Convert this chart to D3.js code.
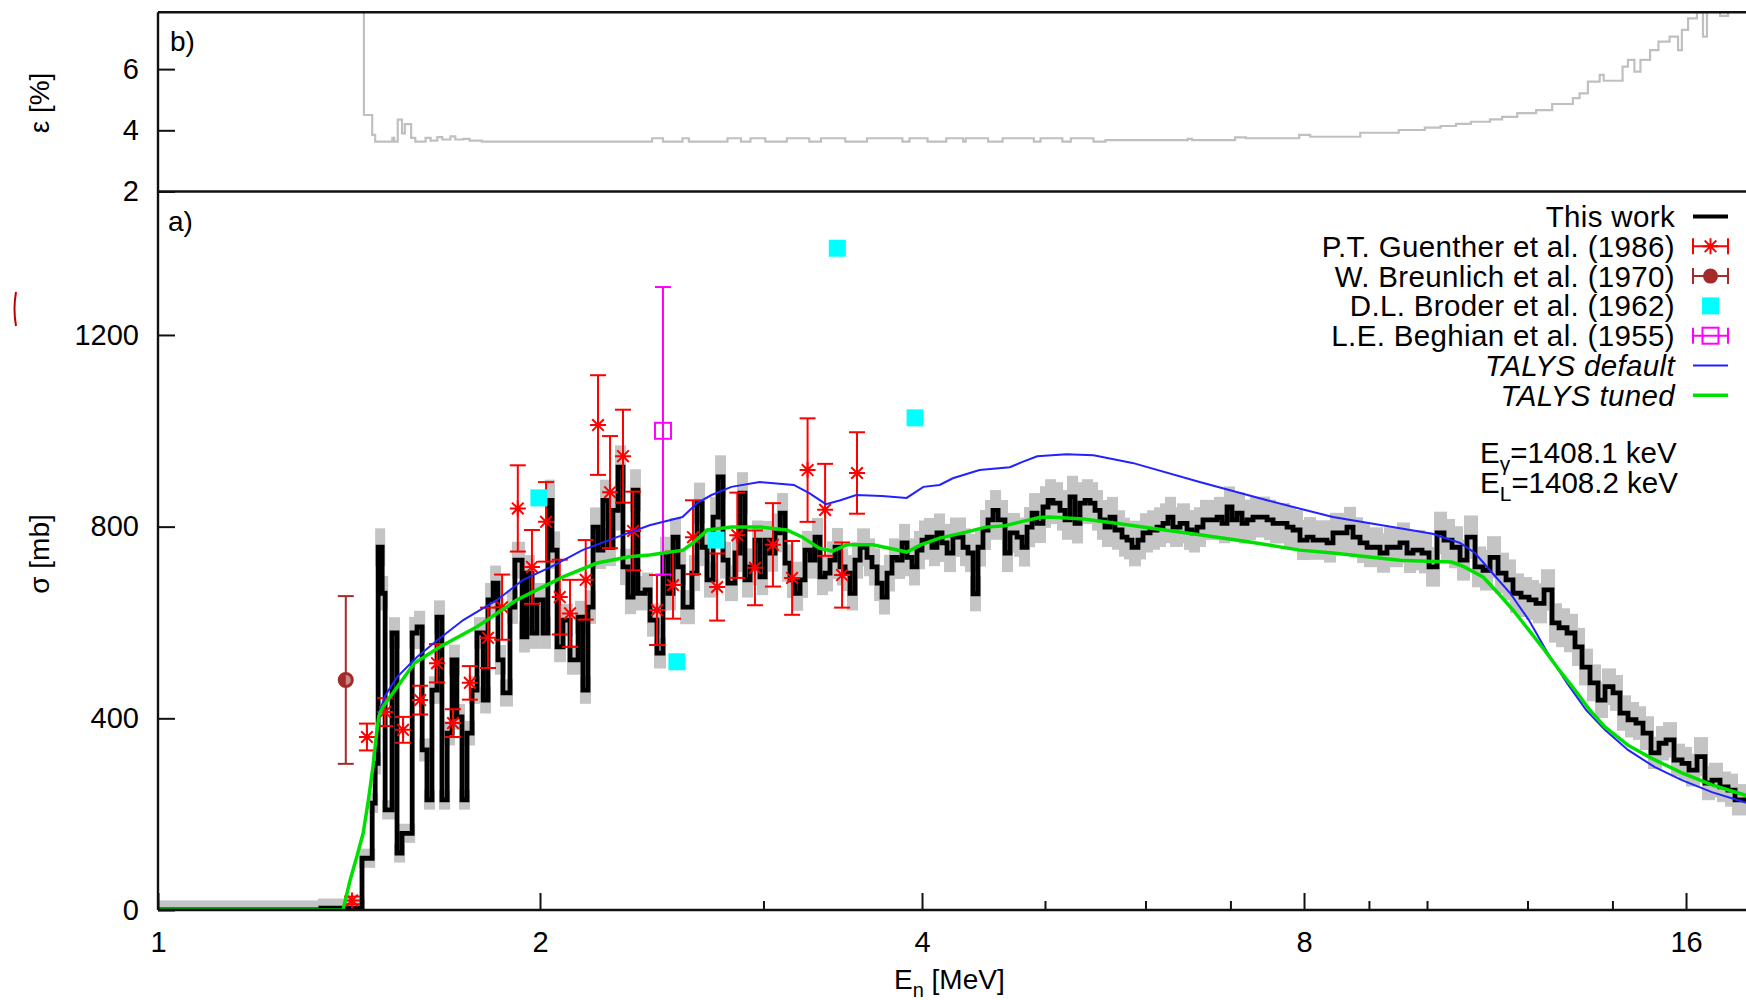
<!DOCTYPE html>
<html>
<head>
<meta charset="utf-8">
<script src="https://cdn.jsdelivr.net/npm/d3@7"></script>
<style>
  body { margin: 0; background: #fff; }
  text { font-family: "Liberation Sans", Arial, sans-serif; fill: #000; }
</style>
</head>
<body>
<svg id="chart" width="1746" height="1000"></svg>
<script>
// ---- data ----
// this work: step histogram, [bin start E (MeV), sigma (mb)]
const thisWork = [
  [1.0, 0], [1.344, 4], [1.448, 108], [1.475, 223], [1.483, 306], [1.491, 757], [1.502, 661],
  [1.510, 209], [1.529, 578], [1.543, 119], [1.557, 160], [1.586, 578], [1.600, 591], [1.615, 334],
  [1.629, 230], [1.644, 459], [1.659, 611], [1.674, 230], [1.690, 369], [1.705, 522], [1.720, 403],
  [1.736, 230], [1.752, 369], [1.768, 459], [1.784, 578], [1.804, 438], [1.820, 647], [1.837, 682],
  [1.853, 522], [1.870, 453], [1.894, 632], [1.911, 730], [1.936, 570], [1.953, 703], [1.971, 578],
  [1.989, 647], [2.011, 578], [2.029, 855], [2.044, 751], [2.063, 549], [2.085, 605], [2.112, 522],
  [2.143, 611], [2.162, 459], [2.182, 632], [2.202, 799], [2.222, 751], [2.242, 855], [2.263, 757],
  [2.283, 834], [2.304, 924], [2.325, 716], [2.346, 653], [2.368, 876], [2.389, 661], [2.420, 668],
  [2.442, 605], [2.473, 536], [2.500, 740], [2.523, 661], [2.546, 778], [2.569, 716], [2.593, 632],
  [2.635, 703], [2.659, 849], [2.684, 757], [2.708, 689], [2.738, 820], [2.763, 904], [2.788, 730],
  [2.813, 682], [2.849, 745], [2.875, 870], [2.901, 689], [2.928, 716], [2.954, 772], [2.981, 695],
  [3.009, 772], [3.036, 745], [3.064, 787], [3.092, 828], [3.120, 724], [3.148, 689], [3.177, 661],
  [3.206, 689], [3.235, 751], [3.265, 730], [3.294, 778], [3.324, 695], [3.355, 703], [3.385, 730],
  [3.416, 757], [3.447, 716], [3.479, 703], [3.510, 661], [3.542, 730], [3.575, 757], [3.620, 736],
  [3.653, 716], [3.687, 682], [3.720, 653], [3.754, 703], [3.788, 736], [3.823, 730], [3.858, 766],
  [3.893, 736], [3.928, 716], [3.964, 751], [4.000, 772], [4.037, 778], [4.073, 757], [4.110, 787],
  [4.148, 766], [4.186, 745], [4.231, 778], [4.309, 757], [4.348, 745], [4.388, 660], [4.428, 757],
  [4.468, 793], [4.509, 814], [4.550, 834], [4.592, 814], [4.650, 745], [4.693, 787], [4.753, 778],
  [4.796, 757], [4.840, 799], [4.884, 828], [4.928, 807], [4.982, 841], [5.028, 855], [5.073, 849],
  [5.138, 834], [5.185, 814], [5.232, 862], [5.280, 807], [5.328, 849], [5.377, 855], [5.426, 849],
  [5.475, 834], [5.525, 814], [5.575, 799], [5.626, 820], [5.677, 793], [5.750, 778], [5.802, 772],
  [5.855, 757], [5.919, 772], [5.973, 787], [6.050, 793], [6.127, 799], [6.194, 807], [6.250, 820],
  [6.307, 799], [6.388, 807], [6.470, 793], [6.529, 787], [6.588, 799], [6.660, 814], [6.832, 820],
  [6.894, 807], [6.957, 841], [7.020, 814], [7.084, 828], [7.149, 807], [7.214, 814], [7.293, 820],
  [7.481, 814], [7.563, 807], [7.757, 799], [7.842, 793], [7.942, 772], [8.044, 778], [8.132, 772],
  [8.341, 766], [8.432, 787], [8.649, 799], [8.744, 778], [8.856, 766], [8.969, 757], [9.183, 745],
  [9.300, 757], [9.522, 766], [9.644, 745], [9.750, 751], [9.910, 745], [10.037, 716], [10.184, 787],
  [10.314, 772], [10.465, 757], [10.618, 730], [10.753, 778], [10.911, 716], [11.070, 709],
  [11.212, 736], [11.376, 703], [11.542, 689], [11.689, 661], [11.861, 653], [12.034, 647],
  [12.188, 640], [12.366, 668], [12.547, 599], [12.707, 589], [12.893, 578], [13.081, 549],
  [13.249, 507], [13.442, 474], [13.639, 438], [13.813, 466], [14.015, 453], [14.194, 411],
  [14.402, 397], [14.612, 390], [14.799, 369], [15.015, 328], [15.235, 348], [15.430, 355],
  [15.655, 313], [15.884, 306], [16.087, 292], [16.323, 320], [16.561, 265], [16.773, 271],
  [17.018, 257], [17.267, 250], [17.488, 230]
];
const thisWorkEnd = 18.0;

// relative uncertainty epsilon (%), step series [bin start E, eps]
const epsilon = [
  [1.448, 30], [1.453, 4.5], [1.475, 3.85], [1.483, 3.63], [1.53, 3.75], [1.535, 3.63], [1.545, 4.35],
  [1.557, 3.9], [1.565, 4.2], [1.583, 3.75], [1.595, 3.63], [1.625, 3.75], [1.64, 3.66], [1.66, 3.78],
  [1.675, 3.7], [1.70, 3.8], [1.715, 3.7], [1.74, 3.72], [1.76, 3.66], [1.80, 3.63], [2.451, 3.74],
  [2.50, 3.63], [2.59, 3.74], [2.62, 3.63], [2.81, 3.74], [2.88, 3.63], [2.93, 3.74], [3.01, 3.63],
  [3.13, 3.74], [3.26, 3.63], [3.33, 3.74], [3.48, 3.63], [3.62, 3.74], [3.86, 3.63], [3.91, 3.74],
  [4.04, 3.63], [4.18, 3.74], [4.31, 3.63], [4.33, 3.74], [4.51, 3.63], [4.63, 3.74], [4.90, 3.63],
  [4.96, 3.74], [5.16, 3.63], [5.24, 3.74], [5.46, 3.63], [5.58, 3.68], [6.48, 3.72], [6.53, 3.68],
  [7.06, 3.77], [7.20, 3.74], [7.93, 3.85], [8.09, 3.79], [8.86, 3.92], [9.50, 4.01], [9.96, 4.09],
  [10.25, 4.14], [10.54, 4.21], [10.83, 4.28], [11.21, 4.36], [11.46, 4.44], [11.78, 4.56],
  [12.19, 4.66], [12.55, 4.86], [13.03, 5.05], [13.19, 5.21], [13.39, 5.59], [13.68, 5.81],
  [13.78, 5.62], [14.26, 6.08], [14.40, 6.30], [14.57, 5.92], [14.73, 6.30], [14.99, 6.62],
  [15.22, 6.90], [15.53, 7.06], [15.77, 6.62], [15.88, 7.28], [16.06, 7.66], [16.32, 9.0],
  [16.50, 7.06], [16.62, 9.0], [17.02, 7.74], [17.27, 9.0]
];

// P.T. Guenther et al. (1986): [E, sigma, error]
const guenther = [
  [1.422, 20, 8], [1.461, 361, 28], [1.510, 413, 29], [1.560, 376, 27], [1.609, 438, 30],
  [1.659, 515, 40], [1.708, 390, 29], [1.761, 474, 35], [1.820, 568, 63], [1.867, 632, 68],
  [1.921, 838, 90], [1.971, 716, 77], [2.022, 810, 83], [2.073, 653, 78], [2.112, 619, 70],
  [2.173, 689, 83], [2.222, 1012, 104], [2.271, 872, 117], [2.325, 947, 97], [2.368, 791, 82],
  [2.473, 626, 73], [2.546, 678, 70], [2.640, 778, 77], [2.758, 674, 70], [2.861, 782, 89],
  [2.954, 714, 78], [3.052, 762, 87], [3.160, 693, 77], [3.250, 918, 108], [3.355, 835, 96],
  [3.460, 699, 68], [3.555, 912, 85]
];
// W. Breunlich et al. (1970)
const breunlich = [[1.406, 480, 175]];
// D.L. Broder et al. (1962)
const broder = [[1.996, 860], [2.564, 518], [2.753, 772], [3.43, 1381], [3.95, 1027]];
// L.E. Beghian et al. (1955)
const beghian = [[2.50, 1000, 300]];

// TALYS default
const talysDefault = [
  [1.0, 0], [1.399, 0], [1.417, 62], [1.434, 110], [1.451, 160], [1.465, 230], [1.477, 299],
  [1.487, 369], [1.493, 410], [1.510, 447], [1.543, 486], [1.60, 528], [1.66, 563], [1.74, 605],
  [1.85, 647], [1.94, 689], [2.04, 716], [2.16, 751], [2.30, 778], [2.44, 803], [2.59, 820],
  [2.66, 849], [2.73, 866], [2.83, 883], [2.98, 893], [3.17, 887], [3.26, 870], [3.36, 847],
  [3.45, 855], [3.55, 866], [3.72, 864], [3.89, 860], [4.01, 883], [4.13, 887], [4.23, 901],
  [4.44, 918], [4.69, 924], [4.80, 935], [4.93, 947], [5.20, 951], [5.46, 949], [5.86, 933],
  [6.62, 893], [7.48, 855], [8.43, 820], [9.86, 790], [10.1, 785], [10.62, 766], [10.91, 745],
  [11.21, 709], [11.63, 661], [12.03, 605], [12.45, 536], [12.89, 474], [13.35, 417], [13.81, 376],
  [14.40, 334], [15.12, 298], [15.88, 271], [16.77, 246], [17.8, 225], [20.0, 190]
];
// TALYS tuned
const talysTuned = [
  [1.0, 0], [1.399, 0], [1.417, 62], [1.434, 110], [1.451, 160], [1.465, 230], [1.477, 299],
  [1.487, 369], [1.493, 405], [1.504, 424], [1.543, 465], [1.592, 515], [1.667, 549], [1.784, 591],
  [1.850, 619], [1.917, 647], [1.989, 668], [2.085, 695], [2.218, 724], [2.35, 737], [2.44, 741],
  [2.593, 751], [2.64, 766], [2.71, 793], [2.83, 799], [2.99, 799], [3.13, 793], [3.22, 778],
  [3.32, 755], [3.40, 749], [3.49, 762], [3.66, 762], [3.89, 747], [3.99, 762], [4.13, 776],
  [4.34, 789], [4.49, 799], [4.65, 802], [4.80, 811], [4.95, 819], [5.04, 820], [5.36, 816],
  [5.69, 807], [6.05, 797], [6.62, 783], [7.25, 768], [7.94, 751], [8.43, 745], [8.97, 737],
  [9.52, 730], [10.0, 728], [10.46, 726], [10.7, 716], [11.07, 695], [11.38, 661], [11.69, 626],
  [12.03, 584], [12.37, 543], [12.71, 501], [13.08, 459], [13.44, 417], [13.81, 382], [14.40, 344],
  [15.02, 317], [15.88, 286], [16.77, 261], [17.8, 240], [20.0, 205]
];

const xMajor = [1, 2, 4, 8, 16];
const xMinor = [3, 5, 6, 7, 9, 10, 12, 14];
const yMainTicks = [0, 400, 800, 1200];
const yTopTicks = [2, 4, 6];
const legendLabels = ["This work", "P.T. Guenther et al. (1986)", "W. Breunlich et al. (1970)",
  "D.L. Broder et al. (1962)", "L.E. Beghian et al. (1955)", "TALYS default", "TALYS tuned"];

// ---- layout ----
const left = 158, right = 1746, topY = 12.2, midY = 191.5, botY = 910;
const svg = d3.select("#chart");

const x = d3.scaleLog().domain([1, 20]).range([left, 1809]);
const y = d3.scaleLinear().domain([0, 1500]).range([botY, 191.2]);
const yE = d3.scaleLinear().domain([2, 7.86]).range([midY, topY]);

const defs = svg.append("defs");
defs.append("clipPath").attr("id", "clipMain")
  .append("rect").attr("x", left).attr("y", midY).attr("width", right - left).attr("height", botY - midY);
defs.append("clipPath").attr("id", "clipTop")
  .append("rect").attr("x", left).attr("y", topY).attr("width", right - left).attr("height", midY - topY);

const red = "#ff0000", brown = "#a52a2a", cyan = "#00ffff", magenta = "#ff00ff",
      blue = "#2222ff", green = "#00e000", band = "#c4c4c4";

// ---- top panel: epsilon ----
const topPanel = svg.append("g").attr("clip-path", "url(#clipTop)");
const epsLine = d3.line().x(d => x(d[0])).y(d => yE(d[1])).curve(d3.curveStepAfter);
topPanel.append("path")
  .datum(epsilon.concat([[thisWorkEnd, epsilon[epsilon.length - 1][1]]]))
  .attr("d", epsLine).attr("fill", "none").attr("stroke", "#c0c0c0").attr("stroke-width", 2.2);

// ---- main panel ----
const plot = svg.append("g").attr("clip-path", "url(#clipMain)");

const epsBis = d3.bisector(d => d[0]).right;
function epsAt(E) {
  const i = epsBis(epsilon, E) - 1;
  return i >= 0 ? epsilon[i][1] : 0;
}
const bins = thisWork.map((d, i) => ({
  e0: d[0],
  e1: i < thisWork.length - 1 ? thisWork[i + 1][0] : thisWorkEnd,
  s: d[1]
}));
// gray box: uncertainty plus the width of the drawn line
const half = d => Math.min(Math.max(d.s * epsAt(Math.sqrt(d.e0 * d.e1)) / 100, 8), 40) + 12;

plot.selectAll("rect.band").data(bins).join("rect")
  .attr("class", "band")
  .attr("x", d => x(d.e0) - 3)
  .attr("width", d => x(d.e1) - x(d.e0) + 6)
  .attr("y", d => y(d.s + half(d)))
  .attr("height", d => y(d.s - half(d)) - y(d.s + half(d)))
  .attr("fill", band);

const stepLine = d3.line().x(d => x(d[0])).y(d => y(d[1])).curve(d3.curveStepAfter);
plot.append("path")
  .datum(thisWork.concat([[thisWorkEnd, thisWork[thisWork.length - 1][1]]]))
  .attr("d", stepLine).attr("fill", "none").attr("stroke", "#000")
  .attr("stroke-width", 4.8).attr("stroke-linejoin", "miter");

// error bars helper
function errorBars(sel, color, capHalf, width) {
  sel.append("line")
    .attr("x1", 0).attr("x2", 0)
    .attr("y1", d => y(d[1] - d[2])).attr("y2", d => y(d[1] + d[2]))
    .attr("stroke", color).attr("stroke-width", width);
  [-1, 1].forEach(k => {
    sel.append("line")
      .attr("x1", -capHalf).attr("x2", capHalf)
      .attr("y1", d => y(d[1] + k * d[2])).attr("y2", d => y(d[1] + k * d[2]))
      .attr("stroke", color).attr("stroke-width", width);
  });
}
const starPath = "M-8,0H8M0,-8V8M-5.8,-5.8L5.8,5.8M-5.8,5.8L5.8,-5.8";

// Guenther
const gu = plot.selectAll("g.gu").data(guenther).join("g")
  .attr("class", "gu").attr("transform", d => `translate(${x(d[0])},0)`);
errorBars(gu, red, 8, 2);
gu.append("path").attr("d", starPath)
  .attr("transform", d => `translate(0,${y(d[1])})`)
  .attr("stroke", red).attr("stroke-width", 2).attr("fill", "none");

// Breunlich
const br = plot.selectAll("g.br").data(breunlich).join("g")
  .attr("class", "br").attr("transform", d => `translate(${x(d[0])},0)`);
errorBars(br, brown, 8, 2);
br.append("circle").attr("cy", d => y(d[1])).attr("r", 6.5)
  .attr("fill", "#c98a8a").attr("stroke", brown).attr("stroke-width", 3);
br.append("path").attr("d", d => `M0,${y(d[1]) - 6.5}A6.5,6.5 0 0 0 0,${y(d[1]) + 6.5}Z`)
  .attr("fill", brown);

// Broder
plot.selectAll("rect.bd").data(broder).join("rect")
  .attr("class", "bd")
  .attr("x", d => x(d[0]) - 8.5).attr("y", d => y(d[1]) - 8.5)
  .attr("width", 17).attr("height", 17).attr("fill", cyan);

// Beghian
const bg = plot.selectAll("g.bg").data(beghian).join("g")
  .attr("class", "bg").attr("transform", d => `translate(${x(d[0])},0)`);
errorBars(bg, magenta, 8, 2);
bg.append("rect").attr("x", -8).attr("y", d => y(d[1]) - 8).attr("width", 16).attr("height", 16)
  .attr("fill", "#fff").attr("stroke", magenta).attr("stroke-width", 2);
bg.append("line").attr("x1", 0).attr("x2", 0)
  .attr("y1", d => y(d[1]) - 8).attr("y2", d => y(d[1]) + 8)
  .attr("stroke", magenta).attr("stroke-width", 2);

// TALYS
const curve = d3.line().x(d => x(d[0])).y(d => y(d[1]));
plot.append("path").datum(talysDefault).attr("d", curve)
  .attr("fill", "none").attr("stroke", blue).attr("stroke-width", 2);
plot.append("path").datum(talysTuned).attr("d", curve)
  .attr("fill", "none").attr("stroke", green).attr("stroke-width", 3.5);

// ---- frame ----
const frame = svg.append("g").attr("stroke", "#111").attr("stroke-width", 2.4);
frame.append("line").attr("x1", left).attr("x2", right).attr("y1", topY).attr("y2", topY);
frame.append("line").attr("x1", left).attr("x2", right).attr("y1", midY).attr("y2", midY);
frame.append("line").attr("x1", left).attr("x2", right).attr("y1", botY).attr("y2", botY);
frame.append("line").attr("x1", left).attr("x2", left).attr("y1", topY).attr("y2", botY);

// ---- axes ----
function styleAxis(g) {
  g.select(".domain").remove();
  g.selectAll(".tick line").attr("stroke", "#111").attr("stroke-width", 2);
  g.selectAll(".tick text").attr("font-size", 29)
    .attr("font-family", "'Liberation Sans', Arial, sans-serif").attr("fill", "#000");
}
svg.append("g").attr("transform", `translate(0,${botY})`)
  .call(d3.axisBottom(x).tickValues(xMajor).tickFormat(d3.format("d"))
    .tickSizeInner(-17).tickSizeOuter(0).tickPadding(21))
  .call(styleAxis);
svg.append("g").attr("transform", `translate(0,${botY})`)
  .call(d3.axisBottom(x).tickValues(xMinor).tickFormat(() => "")
    .tickSizeInner(-9).tickSizeOuter(0))
  .call(styleAxis);
svg.append("g").attr("transform", `translate(${left},0)`)
  .call(d3.axisLeft(y).tickValues(yMainTicks).tickFormat(d3.format("d"))
    .tickSizeInner(-17).tickSizeOuter(0).tickPadding(19))
  .call(styleAxis);
svg.append("g").attr("transform", `translate(${left},0)`)
  .call(d3.axisLeft(yE).tickValues(yTopTicks).tickFormat(d3.format("d"))
    .tickSizeInner(-17).tickSizeOuter(0).tickPadding(19))
  .call(styleAxis);

// axis titles
svg.append("text").attr("transform", "translate(49,554) rotate(-90)")
  .attr("text-anchor", "middle").attr("font-size", 28).text("σ [mb]");
svg.append("text").attr("transform", "translate(49,103) rotate(-90)")
  .attr("text-anchor", "middle").attr("font-size", 28).text("ε [%]");
const xt = svg.append("text").attr("x", 894).attr("y", 989).attr("font-size", 28);
xt.append("tspan").text("E");
xt.append("tspan").attr("dy", 8).attr("font-size", 20).text("n");
xt.append("tspan").attr("dy", -8).text(" [MeV]");

// panel tags
svg.append("text").attr("x", 168).attr("y", 231).attr("font-size", 28).text("a)");
svg.append("text").attr("x", 170).attr("y", 51).attr("font-size", 28).text("b)");

// ---- legend ----
const leg = svg.append("g");
const rowY = i => 227 + i * 29.8;
legendLabels.forEach((t, i) => {
  leg.append("text").attr("x", 1675).attr("y", rowY(i)).attr("text-anchor", "end")
    .attr("font-size", 29.5).attr("letter-spacing", 0.35)
    .attr("font-style", i >= 5 ? "italic" : "normal").text(t);
});
const sx0 = 1693, sx1 = 1728, sc = (sx0 + sx1) / 2;
const cy = i => rowY(i) - 10.5;
leg.append("line").attr("x1", sx0).attr("x2", sx1).attr("y1", cy(0)).attr("y2", cy(0))
  .attr("stroke", "#000").attr("stroke-width", 4);
function legErr(i, color) {
  const g = leg.append("g").attr("stroke", color).attr("stroke-width", 2);
  g.append("line").attr("x1", sx0).attr("x2", sx1).attr("y1", cy(i)).attr("y2", cy(i));
  g.append("line").attr("x1", sx0).attr("x2", sx0).attr("y1", cy(i) - 8).attr("y2", cy(i) + 8);
  g.append("line").attr("x1", sx1).attr("x2", sx1).attr("y1", cy(i) - 8).attr("y2", cy(i) + 8);
  return g;
}
legErr(1, red).append("path").attr("d", starPath)
  .attr("transform", `translate(${sc},${cy(1)})`).attr("fill", "none");
legErr(2, brown).append("circle").attr("cx", sc).attr("cy", cy(2)).attr("r", 6.5)
  .attr("fill", brown).attr("stroke-width", 2);
leg.append("rect").attr("x", sc - 8.5).attr("y", cy(3) - 8.5).attr("width", 17).attr("height", 17)
  .attr("fill", cyan);
legErr(4, magenta).append("rect").attr("x", sc - 8).attr("y", cy(4) - 8)
  .attr("width", 16).attr("height", 16).attr("fill", "none");
leg.append("line").attr("x1", sx0).attr("x2", sx1).attr("y1", cy(5)).attr("y2", cy(5))
  .attr("stroke", blue).attr("stroke-width", 2);
leg.append("line").attr("x1", sx0).attr("x2", sx1).attr("y1", cy(6)).attr("y2", cy(6))
  .attr("stroke", green).attr("stroke-width", 3.5);

// energies of the transition
const t1 = svg.append("text").attr("x", 1480).attr("y", 463).attr("font-size", 29.5);
t1.append("tspan").text("E");
t1.append("tspan").attr("dy", 8).attr("font-size", 21).text("γ");
t1.append("tspan").attr("dy", -8).text("=1408.1 keV");
const t2 = svg.append("text").attr("x", 1480).attr("y", 493).attr("font-size", 29.5);
t2.append("tspan").text("E");
t2.append("tspan").attr("dy", 8).attr("font-size", 21).text("L");
t2.append("tspan").attr("dy", -8).text("=1408.2 keV");

// small stray mark at the left edge of the scan
svg.append("path").attr("d", "M16,292 Q13,309 16,326").attr("fill", "none")
  .attr("stroke", "#c00000").attr("stroke-width", 2);
</script>
</body>
</html>
